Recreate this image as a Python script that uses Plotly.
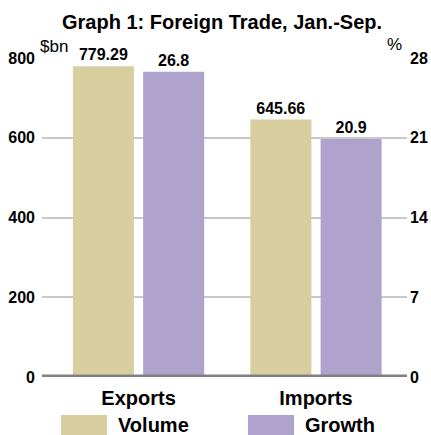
import plotly.graph_objects as go

# ---- data ----
categories = ["Exports", "Imports"]
volume = [779.29, 645.66]          # $bn
growth = [26.8, 20.9]              # %
volume_labels = ["779.29", "645.66"]
growth_labels = ["26.8", "20.9"]
left_ticks = [0, 200, 400, 600, 800]
right_ticks = [0, 7, 14, 21, 28]
series_names = ["Volume", "Growth"]
series_colors = ["#D8CEA0", "#AFA3CE"]

FONT = "Arial, Liberation Sans, sans-serif"
W, H = 431, 435
L, R, T, B = 42, 24, 58, 58
PW, PH = W - L - R, H - T - B

def px_x(x):
    return (x - L) / PW

def px_y(y):
    return (H - B - y) / PH

fig = go.Figure()
fig.add_trace(go.Bar(
    x=categories, y=volume, name=series_names[0],
    marker=dict(color=series_colors[0], line=dict(width=0)),
    width=0.344, offset=-0.37,
    text=volume_labels, textposition="outside",
    textfont=dict(family=FONT, size=16, color="black", weight="bold"),
    cliponaxis=False, yaxis="y", showlegend=False,
))
fig.add_trace(go.Bar(
    x=categories, y=growth, name=series_names[1],
    marker=dict(color=series_colors[1], line=dict(width=0)),
    width=0.344, offset=0.026,
    text=growth_labels, textposition="outside",
    textfont=dict(family=FONT, size=16, color="black", weight="bold"),
    cliponaxis=False, yaxis="y2", showlegend=False,
))

# zero baseline
fig.add_shape(type="line", xref="paper", yref="y", x0=0, x1=1, y0=0, y1=0,
              line=dict(color="#808080", width=5), layer="above")

annotations = [
    dict(text="Graph 1: Foreign Trade, Jan.-Sep.", xref="paper", yref="paper",
         x=px_x(222), y=px_y(22), xanchor="center", yanchor="middle",
         showarrow=False, font=dict(family=FONT, size=20, color="black", weight="bold")),
    dict(text="$bn", xref="paper", yref="paper", x=px_x(38), y=px_y(46),
         xanchor="left", yanchor="middle", showarrow=False,
         font=dict(family=FONT, size=17, color="black")),
    dict(text="%", xref="paper", yref="paper", x=px_x(404), y=px_y(45),
         xanchor="right", yanchor="middle", showarrow=False,
         font=dict(family=FONT, size=17, color="black")),
]

# custom legend
sw_left = [61, 248]
for i, name in enumerate(series_names):
    fig.add_shape(type="rect", xref="paper", yref="paper",
                  x0=px_x(sw_left[i]), x1=px_x(sw_left[i] + 46),
                  y0=px_y(436), y1=px_y(415),
                  fillcolor=series_colors[i], line=dict(width=0))
    annotations.append(dict(text=name, xref="paper", yref="paper",
                            x=px_x(sw_left[i] + 55), y=px_y(425),
                            xanchor="left", yanchor="middle", showarrow=False,
                            font=dict(family=FONT, size=20, color="black", weight="bold")))

fig.update_layout(
    width=W, height=H,
    margin=dict(l=L, r=R, t=T, b=B, pad=0, autoexpand=False),
    paper_bgcolor="white", plot_bgcolor="white",
    barmode="overlay",
    showlegend=False,
    annotations=annotations,
    xaxis=dict(type="category", categoryorder="array", categoryarray=categories,
               range=[-0.544, 1.513], showgrid=False, zeroline=False, showline=False,
               automargin=False,
               ticks="", tickfont=dict(family=FONT, size=20, color="black", weight="bold"),
               ticklabelstandoff=7),
    yaxis=dict(range=[0, 800], tickvals=left_ticks, showgrid=True, automargin=False,
               gridcolor="#C8C8C8", gridwidth=1.5, zeroline=False, showline=False,
               ticks="", tickfont=dict(family=FONT, size=16, color="black", weight="bold"),
               ticklabelstandoff=6),
    yaxis2=dict(range=[0, 28], tickvals=right_ticks, overlaying="y", side="right",
                showgrid=False, zeroline=False, showline=False, ticks="", automargin=False,
                tickfont=dict(family=FONT, size=16, color="black", weight="bold"),
                ticklabelstandoff=2),
)

fig.write_html("out.html")
